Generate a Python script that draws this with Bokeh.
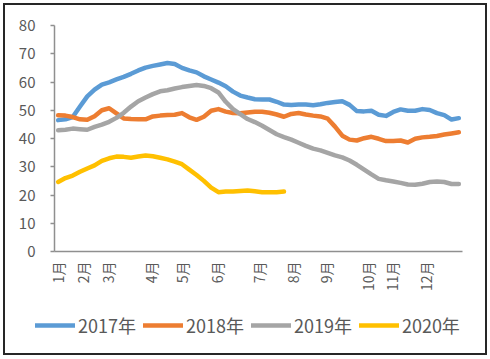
import math
from bokeh.plotting import figure
from bokeh.layouts import column, row
from bokeh.models import (FixedTicker, CustomJSTickFormatter, Legend, LegendItem,
                          Range1d, ColumnDataSource)
from bokeh.embed import file_html
from bokeh.resources import INLINE

week_index = list(range(56))

y2017 = [46.5, 46.8, 47.6, 51.3, 54.9, 57.3, 59.1, 59.9, 60.9, 61.8,
         62.9, 64.1, 65.1, 65.7, 66.2, 66.7, 66.4, 65.0, 64.1, 63.4,
         62.0, 60.9, 59.8, 58.5, 56.6, 55.2, 54.5, 53.9, 53.8, 53.8,
         53.0, 52.0, 51.9, 52.0, 52.0, 51.8, 52.1, 52.6, 52.9, 53.2,
         51.9, 49.7, 49.6, 49.8, 48.4, 48.0, 49.4, 50.3, 49.8, 49.8,
         50.4, 50.1, 49.0, 48.3, 46.7, 47.2]

y2018 = [48.2, 48.1, 47.6, 46.8, 46.6, 47.9, 50.0, 50.7, 48.9, 47.1,
         46.9, 46.8, 46.8, 47.8, 48.1, 48.3, 48.4, 49.0, 47.5, 46.6,
         47.7, 49.8, 50.4, 49.5, 49.0, 48.9, 49.2, 49.5, 49.5, 49.1,
         48.5, 47.7, 48.7, 49.0, 48.5, 48.1, 47.8, 47.0, 44.2, 41.0,
         39.6, 39.3, 40.1, 40.6, 39.9, 39.1, 39.1, 39.3, 38.6, 39.9,
         40.4, 40.6, 40.9, 41.4, 41.8, 42.2]

y2019 = [42.9, 43.1, 43.5, 43.3, 43.1, 44.1, 44.9, 45.9, 47.3, 49.1,
         51.3, 53.2, 54.5, 55.7, 56.7, 57.1, 57.7, 58.2, 58.6, 58.9,
         58.6, 57.8, 56.3, 53.0, 50.4, 48.6, 46.9, 45.8, 44.5, 43.0,
         41.5, 40.5, 39.6, 38.5, 37.4, 36.4, 35.8, 34.9, 34.0, 33.3,
         32.2, 30.7, 29.0, 27.3, 25.7, 25.2, 24.8, 24.3, 23.7, 23.6,
         24.0, 24.6, 24.8, 24.6, 23.9, 23.9]

y2020 = [24.6, 26.0, 26.9, 28.2, 29.4, 30.5, 32.1, 33.0, 33.6, 33.5,
         33.2, 33.6, 34.0, 33.7, 33.2, 32.6, 31.8, 30.9, 29.0, 27.1,
         25.0, 22.6, 21.0, 21.2, 21.2, 21.4, 21.6, 21.3, 21.0, 21.0,
         21.0, 21.2]

series_names = ["2017年", "2018年", "2019年", "2020年"]
series_values = [y2017, y2018, y2019, y2020]
series_colors = ["#5B9BD5", "#ED7D31", "#A5A5A5", "#FFC000"]

month_ticks = [0, 3.43, 6.86, 12.8, 17.05, 21.8, 27.5, 32.2, 36.7, 42.5, 45.8, 50.5]
month_labels = ["1月", "2月", "3月", "4月", "5月", "6月", "7月", "8月", "9月",
                "10月", "11月", "12月"]
y_ticks = [0, 10, 20, 30, 40, 50, 60, 70, 80]

FONT = "Noto Sans CJK SC"
TXT = "#595959"
AX = "#8f8f8f"

# ---------------- main chart ----------------
p = figure(frame_width=408, frame_height=226,
           x_range=Range1d(-0.5, 55.5), y_range=Range1d(0, 80),
           output_backend="svg", toolbar_location=None,
           min_border_left=49, min_border_top=20, min_border_right=23,
           min_border_bottom=52)
p.outline_line_color = None
p.xgrid.visible = False
p.ygrid.visible = False
p.background_fill_color = "white"
p.border_fill_color = "white"

for vals, col in zip(series_values, series_colors):
    src = ColumnDataSource(dict(x=week_index[:len(vals)], y=vals))
    p.line("x", "y", source=src, line_color=col, line_width=4.5,
           line_join="round", line_cap="round")

ya = p.yaxis[0]
ya.ticker = FixedTicker(ticks=y_ticks)
ya.axis_line_color = AX
ya.axis_line_width = 1.5
ya.major_tick_line_color = AX
ya.major_tick_line_width = 1.5
ya.major_tick_out = 4
ya.major_tick_in = 0
ya.minor_tick_line_color = None
ya.major_label_standoff = 15
ya.major_label_text_font = FONT
ya.major_label_text_font_size = "15px"
ya.major_label_text_color = TXT

xa = p.xaxis[0]
xa.ticker = FixedTicker(ticks=month_ticks)
xa.formatter = CustomJSTickFormatter(args=dict(tpos=month_ticks, tlab=month_labels),
    code="const i = tpos.indexOf(tick); return i >= 0 ? tlab[i] : '';")
xa.axis_line_color = AX
xa.axis_line_width = 1.5
xa.major_tick_line_color = None
xa.major_tick_out = 0
xa.major_tick_in = 0
xa.minor_tick_line_color = None
xa.major_label_orientation = math.pi / 2
xa.major_label_standoff = 10
xa.major_label_text_font = FONT
xa.major_label_text_font_size = "14px"
xa.major_label_text_color = TXT

# ---------------- legend strip ----------------
lg = figure(width=480, height=50, x_range=Range1d(-0.5, 55.5),
            y_range=Range1d(1000, 1001),  # series lie outside: only legend shows
            output_backend="svg", toolbar_location=None,
            x_axis_location=None, y_axis_location=None,
            min_border=0, min_border_left=0, min_border_right=0,
            min_border_top=0, min_border_bottom=0)
lg.outline_line_color = None
lg.xgrid.visible = False
lg.ygrid.visible = False
lg.background_fill_color = "white"
lg.border_fill_color = "white"

items = []
for name, vals, col in zip(series_names, series_values, series_colors):
    src = ColumnDataSource(dict(x=week_index[:len(vals)], y=vals))
    r = lg.line("x", "y", source=src, line_color=col, line_width=4.5,
                line_cap="round")
    items.append(LegendItem(label=name, renderers=[r]))

legend = Legend(items=items, orientation="horizontal", location=(30, 15),
                glyph_width=40, glyph_height=22, label_standoff=3, spacing=7,
                padding=0, margin=0,
                label_text_font=FONT, label_text_font_size="18px",
                label_text_color=TXT, border_line_alpha=0,
                background_fill_alpha=0)
lg.add_layout(legend, "center")

layout = column(p, row(lg, spacing=0), spacing=0,
                styles={"border": "2px solid #262626", "margin": "3px"})

open("out.html", "w").write(file_html(layout, INLINE))
